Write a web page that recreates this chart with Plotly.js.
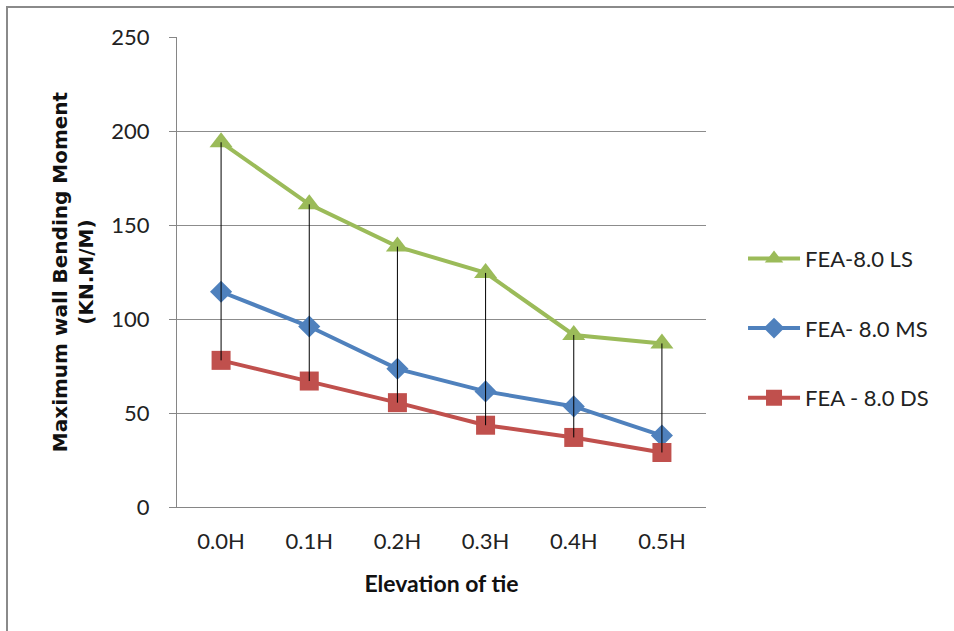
<!DOCTYPE html>
<html>
<head>
<meta charset="utf-8">
<script src="https://cdn.plot.ly/plotly-3.0.1.min.js"></script>
<style>
  html, body { margin: 0; padding: 0; background: #fff; }
  #frame { position: absolute; left: 6px; top: 6px; width: 1000px; height: 700px; border-left: 2px solid #8a8a8a; border-top: 2px solid #8a8a8a; pointer-events: none; }
  #chart { position: absolute; left: 0; top: 0; width: 954px; height: 631px; }
</style>
</head>
<body>
<div id="chart"></div>
<div id="frame"></div>
<script>
const categories = ["0.0H", "0.1H", "0.2H", "0.3H", "0.4H", "0.5H"];
const lsValues = [194, 161, 138.5, 124.5, 91.5, 87];
const msValues = [114.5, 96, 73.5, 61.5, 53.5, 38];
const dsValues = [78, 67, 55.5, 43.5, 37, 29];
const seriesNames = ["FEA-8.0 LS", "FEA- 8.0 MS", "FEA - 8.0 DS"];

const lineFont = "Lato, 'Open Sans', sans-serif";

// high-low lines from LS to DS
const hlX = [], hlY = [];
categories.forEach((c, i) => {
  hlX.push(c, c, null);
  hlY.push(lsValues[i], dsValues[i], null);
});

const traces = [
  {
    x: categories, y: lsValues, name: seriesNames[0], type: "scatter", mode: "lines+markers",
    line: { color: "#9BBB59", width: 4 },
    marker: { symbol: "triangle-up", size: 20, color: "#9BBB59" },
    legendgroup: "a"
  },
  {
    x: categories, y: msValues, name: seriesNames[1], type: "scatter", mode: "lines+markers",
    line: { color: "#4F81BD", width: 4 },
    marker: { symbol: "diamond", size: 17, color: "#4F81BD" },
    legendgroup: "b"
  },
  {
    x: categories, y: dsValues, name: seriesNames[2], type: "scatter", mode: "lines+markers",
    line: { color: "#C0504D", width: 4 },
    marker: { symbol: "square", size: 19, color: "#C0504D" },
    legendgroup: "c"
  },
  {
    x: hlX, y: hlY, type: "scatter", mode: "lines",
    line: { color: "#000000", width: 1 },
    showlegend: false, hoverinfo: "skip", connectgaps: false
  }
];

const layout = {
  width: 954, height: 631,
  margin: { l: 177, r: 248, t: 37, b: 124, pad: 0 },
  paper_bgcolor: "#ffffff", plot_bgcolor: "#ffffff",
  showlegend: true,
  legend: {
    x: 1.07, y: 0.573, xanchor: "left", yanchor: "top",
    font: { family: lineFont, size: 22, color: "#222" },
    tracegroupgap: 38, traceorder: "grouped",
    itemwidth: 52
  },
  xaxis: {
    type: "category",
    range: [-0.5, 5.5],
    showgrid: false,
    showline: true, linecolor: "#868686", linewidth: 1,
    ticks: "", tickfont: { family: lineFont, size: 22, color: "#222" },
    ticklabelstandoff: 15,
    title: { text: "<b>Elevation of tie</b>", font: { family: lineFont, size: 23, color: "#111" }, standoff: 22 },
    zeroline: false
  },
  yaxis: {
    range: [0, 250], tickvals: [0, 50, 100, 150, 200, 250],
    showgrid: true, gridcolor: "#8c8c8c", gridwidth: 1,
    showline: true, linecolor: "#868686", linewidth: 1,
    ticks: "outside", ticklen: 7, tickcolor: "#868686",
    tickfont: { family: lineFont, size: 22, color: "#222" },
    ticklabelstandoff: 15,
    title: { text: "<b>Maximum wall Bending Moment<br>(KN.M/M)</b>", font: { family: "'DejaVu Sans', Verdana, sans-serif", size: 20, color: "#111" }, standoff: 12 },
    zeroline: false
  }
};

Plotly.newPlot("chart", traces, layout, { displayModeBar: false, staticPlot: true });
</script>
</body>
</html>
